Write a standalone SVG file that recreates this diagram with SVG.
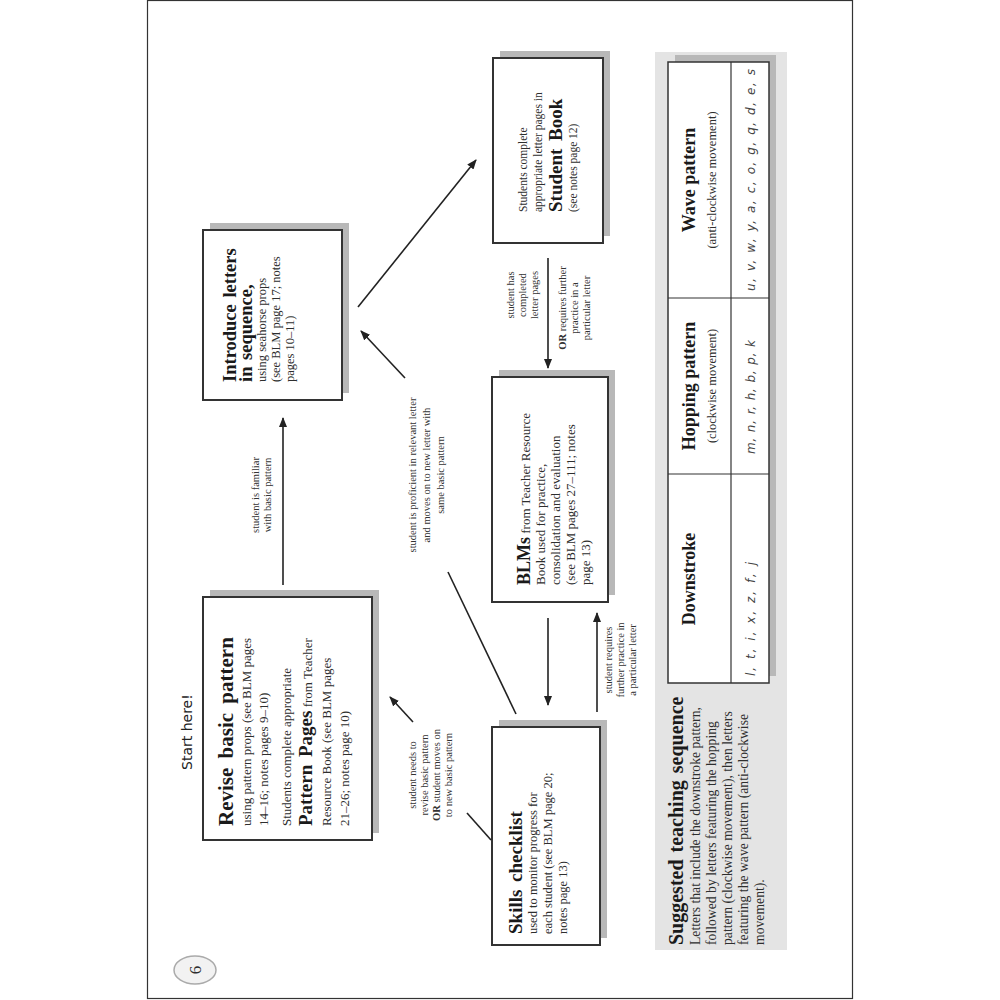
<svg xmlns="http://www.w3.org/2000/svg" width="1000" height="1000" viewBox="0 0 1000 1000">
<defs>
<marker id="ah" markerUnits="userSpaceOnUse" markerWidth="10" markerHeight="8" refX="9" refY="4" orient="auto"><path d="M0,0 L10,4 L0,8 z" fill="#222"/></marker>
</defs>
<style>
.box{fill:#fff;stroke:#333;stroke-width:2}
.sh{fill:#b8b8b8}
.t{font-family:"Liberation Serif",serif;fill:#2e2e2e}
.b{font-weight:bold;fill:#1a1a1a}
.lab{font-family:"Liberation Serif",serif;font-size:10.5px;fill:#333;text-anchor:middle}
.ln{stroke:#222;stroke-width:1.6;fill:none}
.sc{font-family:"DejaVu Sans",sans-serif;font-style:italic;font-size:12px;fill:#444}
</style>
<rect x="0" y="0" width="1000" height="1000" fill="#fff"/>
<rect x="147.5" y="0.5" width="705" height="998" fill="#fff" stroke="#333" stroke-width="1.2"/>
<g transform="translate(0,1000) rotate(-90)">
  <g id="page-number">
    <ellipse cx="30" cy="195" rx="14" ry="21" fill="#f2f2f2" stroke="#aaa" stroke-width="1.5"/>
    <text class="t" x="30" y="201" font-size="17" text-anchor="middle">6</text>
  </g>
  <g id="start-here">
    <text x="230" y="192" font-family="DejaVu Sans, sans-serif" font-size="14" fill="#222">Start here!</text>
  </g>
  <g id="revise">
    <rect class="sh" x="167" y="210" width="243" height="169"/>
    <rect class="box" x="160" y="203" width="243" height="169"/>
    <text class="t" font-size="13">
      <tspan class="b" x="174" y="233" font-size="21" word-spacing="4">Revise basic pattern</tspan>
      <tspan x="174" y="251">using pattern props (see BLM pages</tspan>
      <tspan x="174" y="268">14–16; notes pages 9–10)</tspan>
      <tspan x="174" y="291">Students complete appropriate</tspan>
      <tspan x="174" y="312"><tspan class="b" font-size="19" word-spacing="3">Pattern Pages</tspan> from Teacher</tspan>
      <tspan x="174" y="331">Resource Book (see BLM pages</tspan>
      <tspan x="174" y="349">21–26; notes page 10)</tspan>
    </text>
  </g>
  <g id="introduce">
    <rect class="sh" x="607" y="210" width="170" height="139"/>
    <rect class="box" x="600" y="203" width="170" height="139"/>
    <text class="t" font-size="12.5">
      <tspan class="b" x="618" y="236" font-size="18.5" word-spacing="2">Introduce letters</tspan>
      <tspan class="b" x="618" y="252" font-size="18.5" word-spacing="2">in sequence,</tspan>
      <tspan x="618" y="266">using seahorse props</tspan>
      <tspan x="618" y="280">(see BLM page 17; notes</tspan>
      <tspan x="618" y="294">pages 10–11)</tspan>
    </text>
  </g>
  <g id="student-book">
    <rect class="sh" x="764" y="500" width="185" height="110"/>
    <rect class="box" x="757" y="493" width="185" height="110"/>
    <text class="t" font-size="11.5">
      <tspan x="788" y="527">Students complete</tspan>
      <tspan x="788" y="542">appropriate letter pages in</tspan>
      <tspan class="b" x="788" y="562" font-size="19" word-spacing="3">Student Book</tspan>
      <tspan x="788" y="577">(see notes page 12)</tspan>
    </text>
  </g>
  <g id="blms">
    <rect class="sh" x="405" y="499" width="225" height="116"/>
    <rect class="box" x="398" y="492" width="225" height="116"/>
    <text class="t" font-size="13">
      <tspan x="415" y="530"><tspan class="b" font-size="18">BLMs</tspan> from Teacher Resource</tspan>
      <tspan x="415" y="545">Book used for practice,</tspan>
      <tspan x="415" y="560">consolidation and evaluation</tspan>
      <tspan x="415" y="575">(see BLM pages 27–111; notes</tspan>
      <tspan x="415" y="590">page 13)</tspan>
    </text>
  </g>
  <g id="skills">
    <rect class="sh" x="62" y="499" width="218" height="108"/>
    <rect class="box" x="55" y="492" width="218" height="108"/>
    <text class="t" font-size="12.5">
      <tspan class="b" x="66" y="522" font-size="19" word-spacing="3">Skills checklist</tspan>
      <tspan x="66" y="537">used to monitor progress for</tspan>
      <tspan x="66" y="552">each student (see BLM page 20;</tspan>
      <tspan x="66" y="567">notes page 13)</tspan>
    </text>
  </g>
  <g id="teaching-sequence">
    <rect x="50" y="655" width="898" height="132" fill="#e4e4e4"/>
    <rect class="sh" x="324" y="675" width="621" height="101"/>
    <rect x="317" y="668" width="621" height="101" fill="#fff" stroke="#333" stroke-width="1.5"/>
    <line x1="526" y1="668" x2="526" y2="769" stroke="#333" stroke-width="1.2"/>
    <line x1="702" y1="668" x2="702" y2="769" stroke="#333" stroke-width="1.2"/>
    <line x1="317" y1="731" x2="938" y2="731" stroke="#333" stroke-width="1.2"/>
    <text class="t b" x="421" y="695" font-size="18" text-anchor="middle">Downstroke</text>
    <text class="t b" x="614" y="695" font-size="18" text-anchor="middle">Hopping pattern</text>
    <text class="t" x="614" y="716" font-size="12.5" text-anchor="middle">(clockwise movement)</text>
    <text class="t b" x="820" y="695" font-size="18" text-anchor="middle">Wave pattern</text>
    <text class="t" x="820" y="716" font-size="12.5" text-anchor="middle">(anti-clockwise movement)</text>
    <text class="sc" x="324" y="755" textLength="114" lengthAdjust="spacing">l, t, i, x, z, f, j</text>
    <text class="sc" x="546" y="755" textLength="114" lengthAdjust="spacing">m, n, r, h, b, p, k</text>
    <text class="sc" x="709" y="755" textLength="222" lengthAdjust="spacing">u, v, w, y, a, c, o, g, q, d, e, s</text>
    <text class="t" font-size="13.7">
      <tspan class="b" x="55" y="683" font-size="20" word-spacing="2">Suggested teaching sequence</tspan>
      <tspan x="55" y="700">Letters that include the downstroke pattern,</tspan>
      <tspan x="55" y="716">followed by letters featuring the hopping</tspan>
      <tspan x="55" y="732">pattern (clockwise movement), then letters</tspan>
      <tspan x="55" y="748">featuring the wave pattern (anti-clockwise</tspan>
      <tspan x="55" y="764">movement).</tspan>
    </text>
  </g>
  <g id="connectors">
    <line class="ln" x1="415" y1="283" x2="582" y2="283" marker-end="url(#ah)"/>
    <line class="ln" x1="693" y1="358" x2="840" y2="476" marker-end="url(#ah)"/>
    <line class="ln" x1="742" y1="548" x2="632" y2="548" marker-end="url(#ah)"/>
    <line class="ln" x1="382" y1="548" x2="295" y2="548" stroke-width="2.4" marker-end="url(#ah)"/>
    <line class="ln" x1="288" y1="597" x2="387" y2="597" marker-end="url(#ah)"/>
    <line class="ln" x1="286" y1="516" x2="428" y2="448"/>
    <line class="ln" x1="622" y1="405" x2="669" y2="361" marker-end="url(#ah)"/>
    <line class="ln" x1="160" y1="491" x2="187" y2="467"/>
    <line class="ln" x1="278" y1="413" x2="303" y2="390" marker-end="url(#ah)"/>
    <text class="lab"><tspan x="505" y="259">student is familiar</tspan><tspan x="505" y="271">with basic pattern</tspan></text>
    <text class="lab"><tspan x="705" y="514">student has</tspan><tspan x="705" y="526">completed</tspan><tspan x="705" y="538">letter pages</tspan></text>
    <text class="lab"><tspan x="692" y="566"><tspan font-weight="bold">OR</tspan> requires further</tspan><tspan x="692" y="578">practice in a</tspan><tspan x="692" y="590">particular letter</tspan></text>
    <text class="lab"><tspan x="340" y="612">student requires</tspan><tspan x="340" y="624">further practice in</tspan><tspan x="340" y="636">a particular letter</tspan></text>
    <text class="lab"><tspan x="525" y="416">student is proficient in relevant letter</tspan><tspan x="525" y="430">and moves on to new letter with</tspan><tspan x="525" y="444">same basic pattern</tspan></text>
    <text class="lab"><tspan x="225" y="416">student needs to</tspan><tspan x="225" y="428">revise basic pattern</tspan><tspan x="225" y="440"><tspan font-weight="bold">OR</tspan> student moves on</tspan><tspan x="225" y="452">to new basic pattern</tspan></text>
  </g>
</g>
</svg>
